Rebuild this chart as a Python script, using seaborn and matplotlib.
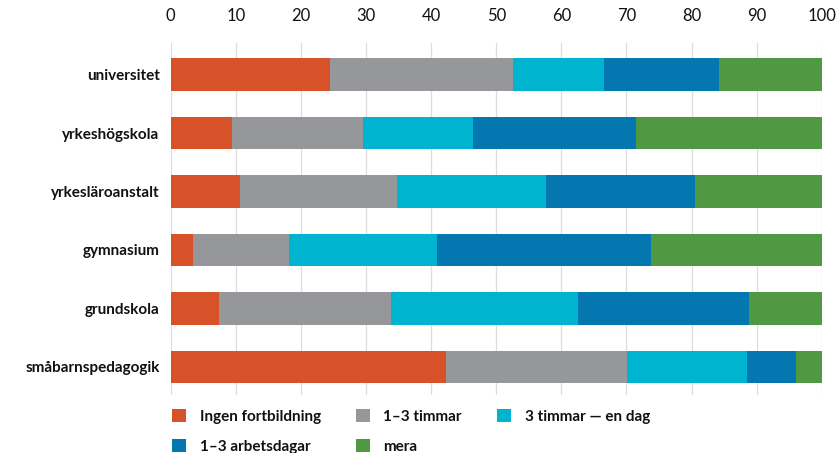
import matplotlib
matplotlib.use("Agg")
import matplotlib.pyplot as plt
import seaborn as sns
import numpy as np
import pandas as pd
from matplotlib.patches import Patch

categories = ["universitet", "yrkeshögskola", "yrkesläroanstalt", "gymnasium", "grundskola", "småbarnspedagogik"]
series_names = ["Ingen fortbildning", "1–3 timmar", "3 timmar — en dag", "1–3 arbetsdagar", "mera"]
ingen = [24.5, 9.4, 10.7, 3.4, 7.4, 42.3]
timmar13 = [28.1, 20.1, 24.1, 14.7, 26.5, 27.8]
timmar_dag = [14.0, 16.9, 22.9, 22.8, 28.6, 18.4]
arbetsdagar = [17.6, 25.1, 22.8, 32.8, 26.4, 7.6]
mera = [15.8, 28.5, 19.5, 26.3, 11.1, 3.9]
colors = ["#D75228", "#96979A", "#00B4D0", "#0477B0", "#519843"]
xticks = [0, 10, 20, 30, 40, 50, 60, 70, 80, 90, 100]

sns.set_theme(style="white")
plt.rcParams['font.family'] = ['Lato', 'DejaVu Sans']

fig = plt.figure(figsize=(8.36, 4.53), dpi=100)
ax = fig.add_axes([170.8/836, 1 - 395/453, (821.7-170.8)/836, (395-43)/453])

vals = np.array([ingen, timmar13, timmar_dag, arbetsdagar, mera])
cum = np.cumsum(vals, axis=0)
for i in range(len(series_names) - 1, -1, -1):
    df = pd.DataFrame({"cat": categories, "v": cum[i]})
    sns.barplot(data=df, x="v", y="cat", orient="h", color=colors[i],
                saturation=1, width=0.56, ax=ax, edgecolor="none", zorder=2)

ax.set_xlim(0, 100)
ax.set_ylim(5.48, -0.54)
ax.set_xticks(xticks)
ax.xaxis.tick_top()
ax.tick_params(axis='x', length=0, pad=14, labelsize=12, colors="#111111")
ax.tick_params(axis='y', length=0, pad=8, colors="#111111")
for lab in ax.get_yticklabels():
    lab.set_fontweight("bold")
    lab.set_fontsize(11)
ax.set_xlabel("")
ax.set_ylabel("")
ax.grid(axis='x', color="#DDDDDD", linewidth=0.9, zorder=0)
ax.set_axisbelow(True)
for s in ax.spines.values():
    s.set_visible(False)

handles = [Patch(facecolor=c, edgecolor="none", label=n) for c, n in zip(colors, series_names)]
order = [0, 3, 1, 4, 2]
handles = [handles[k] for k in order]
leg = fig.legend(handles=handles, ncol=3, loc="upper left",
                 bbox_to_anchor=(166/836, 1 - 403/453), frameon=False,
                 prop={"weight": "bold", "size": 11},
                 handlelength=0.9, handleheight=0.9, handletextpad=0.9,
                 columnspacing=2.3, labelspacing=1.0, borderaxespad=0)
for t in leg.get_texts():
    t.set_color("#111111")

fig.savefig("out.png", dpi=100)
